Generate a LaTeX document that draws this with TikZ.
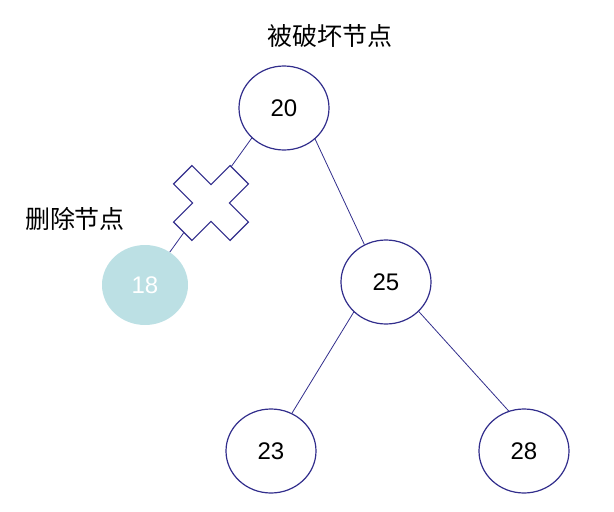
\documentclass[tikz,border=0pt]{standalone}
\usepackage{fontspec}
\setmainfont{Liberation Sans}
\newfontfamily\cjk{Noto Sans CJK SC}
\usepackage{tikz}
\usetikzlibrary{positioning, shapes.geometric}
\usepackage{xcolor}
\definecolor{treeblue}{RGB}{50, 46, 140}
\definecolor{delcyan}{RGB}{188, 224, 228}

\begin{document}
\begin{tikzpicture}[x=1pt, y=-1pt,
    treenode/.style={ellipse, draw=treeblue, line width=1.2pt, fill=white,
        minimum width=90pt, minimum height=84pt, inner sep=0pt,
        font=\fontsize{24}{24}\selectfont},
    treeedge/.style={draw=treeblue, line width=0.8pt},
    note/.style={font=\cjk\fontsize{25}{25}\selectfont, inner sep=0pt}]
  \useasboundingbox (0,0) rectangle (614,512);
  % tree nodes
  \node[treenode] (n20) at (284,108) {20};
  \node[treenode] (n25) at (386,282) {25};
  \node[treenode] (n23) at (271,451) {23};
  \node[treenode] (n28) at (524,451) {28};
  \node[ellipse, fill=delcyan, minimum width=86pt, minimum height=80pt,
        inner sep=0pt, text=white, font=\fontsize{24}{24}\selectfont]
        (n18) at (145,285) {18};
  % edges
  \draw[treeedge] (n20.-45) -- (n25.120);
  \draw[treeedge] (n25.-137) -- (n23.61);
  \draw[treeedge] (n25.-42) -- (n28.111);
  \draw[treeedge] (n20.-137) -- (n18.53);
  % broken link mark
  \draw[treeblue, line width=1.2pt, fill=white, shift={(211,203)}, rotate=45]
    (13,13) -- (13,40) -- (-13,40) -- (-13,13) -- (-40,13) -- (-40,-13)
    -- (-13,-13) -- (-13,-40) -- (13,-40) -- (13,-13) -- (40,-13) -- (40,13) -- cycle;
  % labels
  \node[note] (broken) at (330,36) {被破坏节点};
  \node[note] (deleted) at (75,219) {删除节点};
\end{tikzpicture}
\end{document}
